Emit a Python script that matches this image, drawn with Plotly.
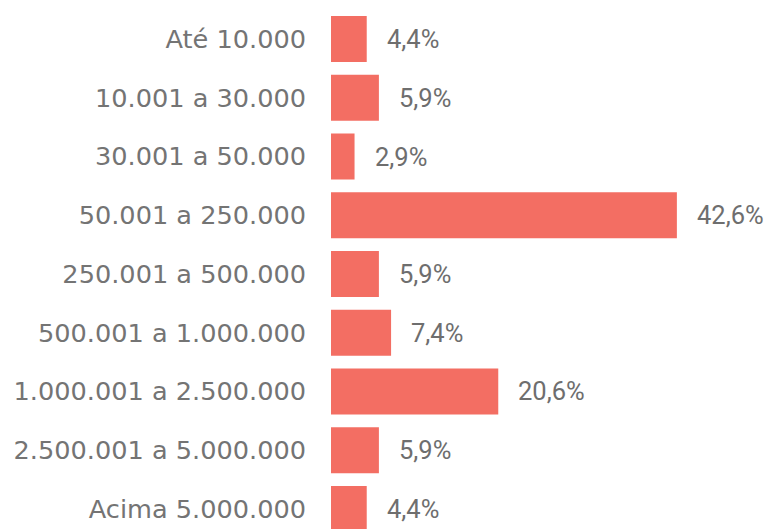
import plotly.graph_objects as go

# faixas de população e percentual de municípios
categories = [
    "Até 10.000",
    "10.001 a 30.000",
    "30.001 a 50.000",
    "50.001 a 250.000",
    "250.001 a 500.000",
    "500.001 a 1.000.000",
    "1.000.001 a 2.500.000",
    "2.500.001 a 5.000.000",
    "Acima 5.000.000",
]
values = [4.4, 5.9, 2.9, 42.6, 5.9, 7.4, 20.6, 5.9, 4.4]
labels = [("%.1f%%" % v).replace(".", ",") for v in values]

bar_color = "#F36E63"

fig = go.Figure(go.Bar(
    x=values,
    y=categories,
    orientation="h",
    marker=dict(color=bar_color, line=dict(width=0)),
    width=0.78,
    hoverinfo="skip",
))

# data labels to the right of each bar
for cat, v, lab in zip(categories, values, labels):
    fig.add_annotation(
        x=v, y=cat, text=lab, showarrow=False,
        xanchor="left", xshift=18,
        font=dict(family="Roboto", size=25.5, color="#6e6e6e"),
    )

# the page body adds an 8px offset, so margins/ranges are shifted to compensate
fig.update_layout(
    width=772, height=529,
    margin=dict(l=323, r=0, t=0, b=0),
    paper_bgcolor="white",
    plot_bgcolor="white",
    showlegend=False,
    xaxis=dict(range=[0, 55.3], visible=False, fixedrange=True, automargin=False),
    yaxis=dict(
        type="category",
        categoryorder="array",
        categoryarray=categories,
        range=[8.477, -0.528],
        automargin=False,
        showgrid=False,
        zeroline=False,
        showline=False,
        ticks="",
        ticklabelstandoff=24,
        tickfont=dict(family="DejaVu Sans", size=25.6, color="#747474"),
    ),
)

fig.write_html("out.html")
